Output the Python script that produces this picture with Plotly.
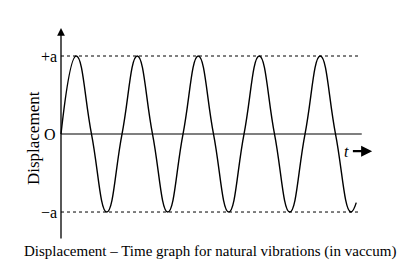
import plotly.graph_objects as go

# Data (time in periods, displacement in units of a)
t_points = [0, 0.25, 0.5, 0.75, 1.0, 1.25, 1.5, 1.75, 2.0, 2.25, 2.5, 2.75,
            3.0, 3.25, 3.5, 3.75, 4.0, 4.25, 4.5, 4.75, 4.84]
disp_points = [0, 1, 0, -1, 0, 1, 0, -1, 0, 1, 0, -1,
               0, 1, 0, -1, 0, 1, 0, -1, -0.88]
amp_levels = [1, -1]
amp_labels = ["+a", "\u2212a"]
t_end = 4.9

SERIF = "Liberation Serif, Times New Roman, serif"

fig = go.Figure()
fig.add_trace(go.Scatter(x=t_points, y=disp_points, mode="lines",
                         line=dict(color="black", width=1.4, shape="spline", smoothing=1.3),
                         hoverinfo="skip", showlegend=False))

shapes = []
for lv in amp_levels:
    shapes.append(dict(type="line", xref="x", yref="y", x0=0, x1=t_end, y0=lv, y1=lv,
                       line=dict(color="black", width=1, dash="dot")))
# time axis (zero line)
shapes.append(dict(type="line", xref="x", yref="y", x0=0, x1=4.93, y0=0, y1=0,
                   line=dict(color="black", width=1.2)))

annotations = []
# vertical axis with arrow
annotations.append(dict(x=0, y=1.36, ax=0, ay=-1.36, xref="x", yref="y", axref="x", ayref="y",
                        text="", showarrow=True, arrowhead=2, arrowsize=1.2, arrowwidth=1.3,
                        arrowcolor="black"))
for lv, lb in zip(amp_levels, amp_labels):
    annotations.append(dict(x=0, y=lv, xref="x", yref="y", text=lb, showarrow=False,
                            xanchor="right", xshift=-2, font=dict(family=SERIF, size=16, color="black")))
annotations.append(dict(x=0, y=0, xref="x", yref="y", text="O", showarrow=False,
                        xanchor="right", xshift=-3, font=dict(family=SERIF, size=16, color="black")))
annotations.append(dict(x=-0.44, y=-0.05, xref="x", yref="y", text="Displacement", textangle=-90,
                        showarrow=False, font=dict(family=SERIF, size=17, color="black")))
annotations.append(dict(x=4.68, y=-0.22, xref="x", yref="y", text="<i>t</i>", showarrow=False,
                        font=dict(family=SERIF, size=16, color="black")))
annotations.append(dict(x=5.1, y=-0.22, ax=4.76, ay=-0.22, xref="x", yref="y", axref="x", ayref="y",
                        text="", showarrow=True, arrowhead=2, arrowsize=1, arrowwidth=2.2,
                        arrowcolor="black"))
annotations.append(dict(x=0.513, y=0.056, xref="paper", yref="paper", yanchor="middle",
                        text="Displacement \u2013 Time graph for natural vibrations (in vaccum)",
                        showarrow=False, font=dict(family=SERIF, size=15, color="black")))

fig.update_layout(
    width=410, height=266,
    margin=dict(l=0, r=0, t=0, b=0),
    paper_bgcolor="white", plot_bgcolor="white",
    xaxis=dict(range=[-1.0, 5.721], visible=False, fixedrange=True),
    yaxis=dict(range=[-1.692, 1.718], visible=False, fixedrange=True),
    shapes=shapes, annotations=annotations,
)

fig.write_html("out.html")
